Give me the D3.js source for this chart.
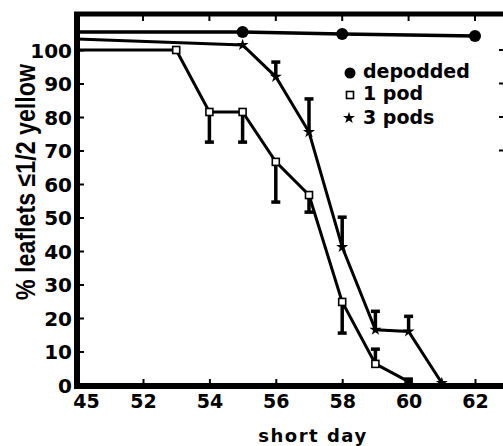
<!DOCTYPE html>
<html><head><meta charset="utf-8">
<script src="https://cdn.jsdelivr.net/npm/d3@7"></script>
<style>
body{margin:0;background:#fff}
svg{display:block}
text{font-family:"DejaVu Sans",sans-serif;font-weight:bold;fill:#000}
</style>
</head><body>
<svg id="chart" width="503" height="446"></svg>
<script>
// ---- data ----
const xTickValues = [45, 52, 54, 56, 58, 60, 62];
const yTickValues = [0, 10, 20, 30, 40, 50, 60, 70, 80, 90, 100];
const rightTickValues = [70, 80, 90, 100];

const depoddedDays = [45, 55, 58, 62];
const depodded     = [105.4, 105.4, 104.8, 104.2];

const onePodDays = [45, 53, 54, 55, 56, 57, 58, 59, 60];
const onePod     = [100, 100, 81.5, 81.5, 66.6, 56.7, 24.8, 6.3, 1];
const onePodErr  = [null, null, 72.5, 72.5, 54.6, 51.6, 15.5, 10.7, null];

const threePodDays = [45, 55, 56, 57, 58, 59, 60, 61];
const threePods    = [103.3, 101.5, 92, 75.5, 41.2, 16.5, 16, 0.6];
const threePodErr  = [null, null, 96.4, 85.4, 50.1, 22, 20.5, null];

const legendLabels = ["depodded", "1 pod", "3 pods"];

// ---- layout ----
const svg = d3.select("#chart");
const W = 503, H = 446;
const x = d3.scaleLinear().domain([45, 52, 62]).range([77, 143, 475]);
const y = d3.scaleLinear().domain([0, 100]).range([385, 50]);
const startDay = 45;

const toPts = (days, vals) => days.map((d, i) => ({d, v: vals[i]}));
const dep = toPts(depoddedDays, depodded);
const one = onePodDays.map((d, i) => ({d, v: onePod[i], e: onePodErr[i]}));
const three = threePodDays.map((d, i) => ({d, v: threePods[i], e: threePodErr[i]}));

const line = d3.line().x(p => x(p.d)).y(p => y(p.v));

// lines
svg.append("path").datum(dep).attr("d", line)
  .attr("fill", "none").attr("stroke", "#000").attr("stroke-width", 3.5);
svg.append("path").datum(one).attr("d", line)
  .attr("fill", "none").attr("stroke", "#000").attr("stroke-width", 3);
svg.append("path").datum(three).attr("d", line)
  .attr("fill", "none").attr("stroke", "#000").attr("stroke-width", 3);

// error bars
function errBars(data) {
  const g = svg.append("g");
  const withErr = data.filter(p => p.e != null);
  g.selectAll("line.v").data(withErr).join("line")
    .attr("x1", p => x(p.d)).attr("x2", p => x(p.d))
    .attr("y1", p => y(p.v)).attr("y2", p => y(p.e))
    .attr("stroke", "#000").attr("stroke-width", 3.5);
  g.selectAll("line.c").data(withErr).join("line")
    .attr("x1", p => x(p.d) - 4.5).attr("x2", p => x(p.d) + 4.5)
    .attr("y1", p => y(p.e)).attr("y2", p => y(p.e))
    .attr("stroke", "#000").attr("stroke-width", 3.5);
}
errBars(one);
errBars(three);

// markers
svg.append("g").selectAll("circle").data(dep.filter(p => p.d !== startDay)).join("circle")
  .attr("cx", p => x(p.d)).attr("cy", p => y(p.v)).attr("r", 6).attr("fill", "#000");
svg.append("g").selectAll("rect").data(one.filter(p => p.d !== startDay)).join("rect")
  .attr("x", p => x(p.d) - 3.5).attr("y", p => y(p.v) - 3.5)
  .attr("width", 7).attr("height", 7)
  .attr("fill", p => p.v < 2 ? "#000" : "#fff").attr("stroke", "#000").attr("stroke-width", 1.6);
const star = d3.symbol().type(d3.symbolStar).size(45);
svg.append("g").selectAll("path").data(three.filter(p => p.d !== startDay)).join("path")
  .attr("transform", p => `translate(${x(p.d)},${y(p.v)})`)
  .attr("d", star).attr("fill", "#000");

// axes
const yAxis = d3.axisLeft(y).tickValues(yTickValues).tickSizeInner(-7).tickSizeOuter(0).tickPadding(5);
const gy = svg.append("g").attr("transform", "translate(77,0)").call(yAxis);
gy.select(".domain").remove();
gy.selectAll(".tick line").attr("stroke", "#000").attr("stroke-width", 2);
gy.selectAll(".tick text").style("font-size", "20px").attr("dy", "0.36em");

const xAxis = d3.axisBottom(x).tickValues(xTickValues).tickSizeInner(-7).tickSizeOuter(0).tickPadding(8)
  .tickFormat(d3.format("d"));
const gx = svg.append("g").attr("transform", "translate(0,386)").call(xAxis);
gx.select(".domain").remove();
gx.selectAll(".tick line").attr("stroke", "#000").attr("stroke-width", 2);
gx.selectAll(".tick text").style("font-size", "19px").attr("dy", "0.72em")
  .attr("dx", d => d === startDay ? 9 : 0);

// top ticks & right ticks
svg.append("g").selectAll("line").data(xTickValues.filter(d => d !== startDay)).join("line")
  .attr("x1", d => x(d)).attr("x2", d => x(d)).attr("y1", 15).attr("y2", 21)
  .attr("stroke", "#000").attr("stroke-width", 2);
svg.append("g").selectAll("line").data(rightTickValues).join("line")
  .attr("x1", 499).attr("x2", 506).attr("y1", d => y(d)).attr("y2", d => y(d))
  .attr("stroke", "#000").attr("stroke-width", 2);

// frame lines
svg.append("line").attr("x1", 74).attr("x2", W).attr("y1", 14).attr("y2", 14)
  .attr("stroke", "#000").attr("stroke-width", 5);
svg.append("line").attr("x1", 77).attr("x2", 77).attr("y1", 12).attr("y2", 389)
  .attr("stroke", "#000").attr("stroke-width", 6);
svg.append("line").attr("x1", 74).attr("x2", W).attr("y1", 386).attr("y2", 386)
  .attr("stroke", "#000").attr("stroke-width", 6);

// legend
const lg = svg.append("g");
const lgY = [73, 95, 118];
lg.append("circle").attr("cx", 350).attr("cy", lgY[0]).attr("r", 5.5).attr("fill", "#000");
lg.append("rect").attr("x", 346.5).attr("y", lgY[1] - 3.5).attr("width", 7).attr("height", 7)
  .attr("fill", "#fff").attr("stroke", "#000").attr("stroke-width", 1.6);
lg.append("path").attr("transform", `translate(349,${lgY[2]})`).attr("d", star).attr("fill", "#000");
lg.selectAll("text").data(legendLabels).join("text")
  .attr("x", 363).attr("y", (d, i) => [78, 100, 124][i])
  .style("font-size", "19px").text(d => d);

// axis titles
svg.append("text").attr("x", 313).attr("y", 442).attr("text-anchor", "middle")
  .style("font-size", "18px").style("letter-spacing", "1.5px").text("short day");
svg.append("text")
  .attr("transform", "translate(35,182) rotate(-90) scale(0.86,1)")
  .attr("text-anchor", "middle")
  .style("font-family", "'Liberation Sans', Arial, sans-serif")
  .style("font-size", "27px").text("% leaflets ≤1/2 yellow");
</script>
</body></html>
